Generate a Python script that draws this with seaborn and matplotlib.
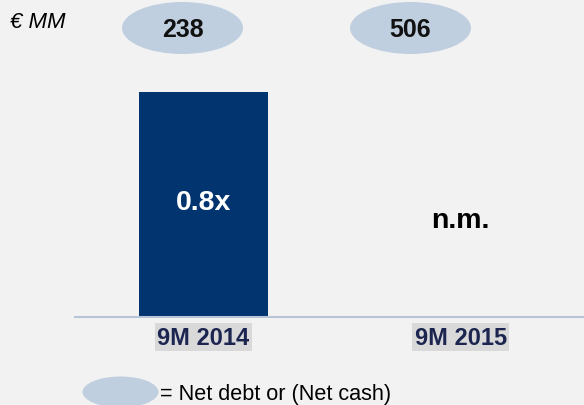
import matplotlib
matplotlib.use("Agg")
import matplotlib.pyplot as plt
from matplotlib.patches import Ellipse
from matplotlib import font_manager
import seaborn as sns
import pandas as pd

# ---- data ----
categories = ["9M 2014", "9M 2015"]
leverage = [0.8, 0.0]             # bar heights (net debt / EBITDA)
bar_labels = ["0.8x", "n.m."]
net_debt = ["238", "506"]
unit_label = "€ MM"
legend_label = "= Net debt or (Net cash)"

sns.set_theme(style="white")
names = {f.name for f in font_manager.fontManager.ttflist}
base = "Liberation Sans" if "Liberation Sans" in names else "DejaVu Sans"
narrow = "Liberation Sans Narrow" if "Liberation Sans Narrow" in names else base
plt.rcParams["font.family"] = [base, "DejaVu Sans"]

BG = "#f2f2f2"
BAR = "#023570"
ELL = "#bfcfdf"

W, H = 584, 406
fig = plt.figure(figsize=(W / 100, H / 100), dpi=100, facecolor=BG)
ax = fig.add_axes([75 / W, (H - 317.7) / H, 1 - 75 / W, 317.7 / H])
ax.set_facecolor(BG)

df = pd.DataFrame({"cat": categories, "val": leverage})
sns.barplot(data=df, x="cat", y="val", color=BAR, saturation=1, width=0.5,
            linewidth=0, edgecolor=BAR, ax=ax)
ax.set_xlim(-0.5, 1.48)
ymax = 0.8 / ((317.7 - 93) / 317.7)
ax.set_ylim(0, ymax)

for s in ["top", "right", "left"]:
    ax.spines[s].set_visible(False)
ax.spines["bottom"].set_color("#b8c4d8")
ax.spines["bottom"].set_linewidth(1.5)
ax.set_xticks([])
ax.set_yticks([])
ax.set_xlabel("")
ax.set_ylabel("")

# bar value labels
ax.text(0, leverage[0] / 2 + 0.01, bar_labels[0], ha="center", va="center",
        color="white", fontsize=20.5, fontweight="bold")
ax.text(1, ymax * (317.7 - 228) / 317.7, bar_labels[1], ha="center", va="baseline",
        color="black", fontsize=20.5, fontweight="bold")

# category labels with grey highlight
trans = ax.get_xaxis_transform()
for i, c in enumerate(categories):
    ax.text(i, -20.5 / 317.7, c, transform=trans, ha="center", va="center",
            color="#1b2550", fontsize=17, fontweight="bold", clip_on=False,
            bbox=dict(boxstyle="square,pad=0.1", fc="#d9d9d9", ec="none"))

# net-debt ellipses at top
ell_x = [182.5, 410.5]
for xc, t in zip(ell_x, net_debt):
    e = Ellipse((xc / W, 1 - 29 / H), 121 / W, 52 / H, transform=fig.transFigure,
                fc=ELL, ec="none")
    fig.add_artist(e)
    fig.text(xc / W, 1 - 30 / H, t, ha="center", va="center", fontsize=18,
             fontweight="bold", color="#111111", family=[narrow, "DejaVu Sans"])

fig.text(10 / W, 1 - 22.5 / H, unit_label, ha="left", va="center", fontsize=16,
         style="italic", color="black")

# legend
fig.add_artist(Ellipse((120.5 / W, 1 - 393 / H), 76 / W, 31 / H,
                       transform=fig.transFigure, fc=ELL, ec="none"))
fig.text(160 / W, 1 - 395 / H, legend_label, ha="left", va="center",
         fontsize=15.6, color="black")

fig.savefig("out.png", dpi=100, facecolor=BG)
